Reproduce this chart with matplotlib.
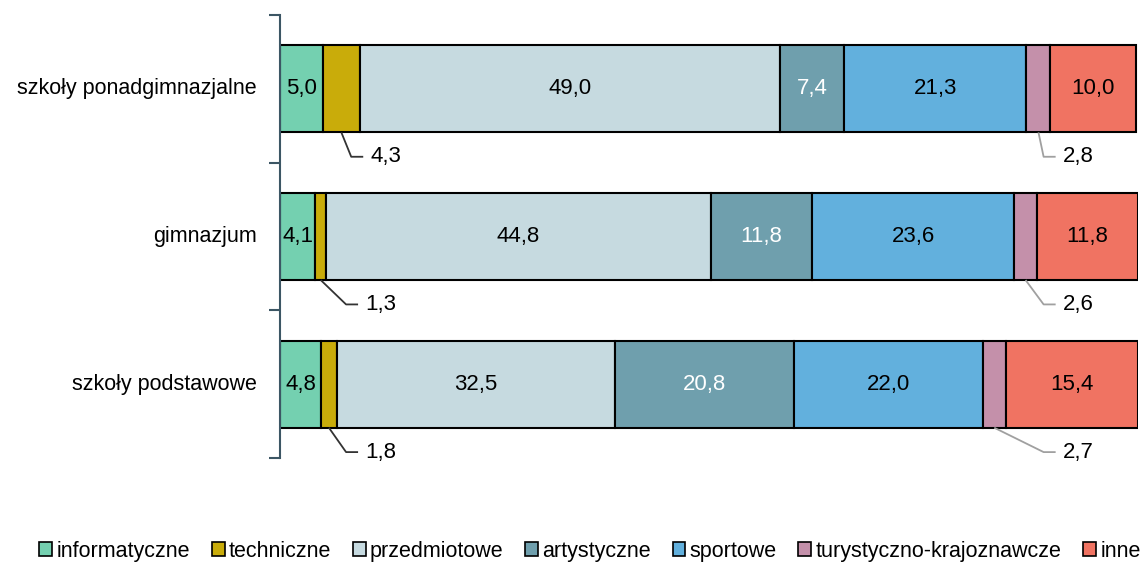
import matplotlib.pyplot as plt
from matplotlib.patches import Patch

categories = ['szkoły ponadgimnazjalne', 'gimnazjum', 'szkoły podstawowe']
series = ['informatyczne', 'techniczne', 'przedmiotowe', 'artystyczne',
          'sportowe', 'turystyczno-krajoznawcze', 'inne']
values = {
    'informatyczne': [5.0, 4.1, 4.8],
    'techniczne': [4.3, 1.3, 1.8],
    'przedmiotowe': [49.0, 44.8, 32.5],
    'artystyczne': [7.4, 11.8, 20.8],
    'sportowe': [21.3, 23.6, 22.0],
    'turystyczno-krajoznawcze': [2.8, 2.6, 2.7],
    'inne': [10.0, 11.8, 15.4],
}
colors = ['#74d0b0', '#c9ac0a', '#c6dae0', '#6f9fad', '#62b0dd', '#c490aa', '#f07362']
text_colors = ['black', 'black', 'black', 'white', 'black', 'black', 'black']
callout_series = {'techniczne': ('left', '#333333'),
                  'turystyczno-krajoznawcze': ('right', '#a0a0a0')}

plt.rcParams['font.family'] = ['Liberation Sans', 'DejaVu Sans']

fig = plt.figure(figsize=(11.42, 5.63), dpi=100)
ax = fig.add_axes([280 / 1142, 1 - 458 / 563, 858 / 1142, 443 / 563])

ypos = [2, 1, 0]
bar_h = 0.59
left = [0.0, 0.0, 0.0]
for s, c, tc in zip(series, colors, text_colors):
    vals = values[s]
    ax.barh(ypos, vals, left=left, height=bar_h, color=c, edgecolor='black',
            linewidth=1.5, zorder=2)
    for y, v, l in zip(ypos, vals, left):
        label = f'{v:.1f}'.replace('.', ',')
        xc = l + v / 2
        if s in callout_series:
            side, lc = callout_series[s]
            yb = y - bar_h / 2
            ylab = yb - 0.165
            if side == 'left':
                xt = max(l + v + 1.2, 9.9)
            else:
                xt = 91.2
            xe = xt - 2.2
            xh = xt - 0.8
            ax.plot([xc, xe, xh], [yb, ylab, ylab], color=lc, lw=1.3,
                    zorder=3, clip_on=False, solid_capstyle='butt')
            ax.text(xt, ylab, label, ha='left', va='center', fontsize=16,
                    color='black')
        else:
            ax.text(xc, y, label, ha='center', va='center', fontsize=16,
                    color=tc, zorder=4)
    left = [a + b for a, b in zip(left, vals)]

ax.set_xlim(0, 100)
ax.set_ylim(-0.5, 2.5)
ax.set_xticks([])
ax.set_yticks([-0.5, 0.5, 1.5, 2.5])
ax.set_yticklabels([])
ax.tick_params(axis='y', direction='out', length=8, width=1.5, color='#3c5664')
for y, name in zip(ypos, categories):
    ax.text(-0.027, y, name, transform=ax.get_yaxis_transform(), ha='right',
            va='center', fontsize=15.5)
for sp in ['top', 'right', 'bottom']:
    ax.spines[sp].set_visible(False)
ax.spines['left'].set_color('#3c5664')
ax.spines['left'].set_linewidth(1.5)

handles = [Patch(facecolor=c, edgecolor='black', linewidth=1.2) for c in colors]
fig.legend(handles, series, loc='center left', bbox_to_anchor=(0.027, 0.021),
           ncol=7, frameon=False, fontsize=15.5, handlelength=0.6,
           handleheight=0.6, handletextpad=0.2, columnspacing=1.0,
           borderaxespad=0)

fig.savefig('out.png', dpi=100)
